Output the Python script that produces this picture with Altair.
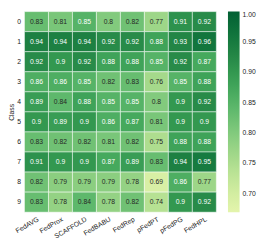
import altair as alt
import pandas as pd

methods = ["FedAVG", "FedProx", "SCAFFOLD", "FedBABU", "FedRep", "pFedPT", "pFedPG", "FedHPL"]
classes = ["0", "1", "2", "3", "4", "5", "6", "7", "8", "9"]
values = [
    [0.83, 0.81, 0.85, 0.80, 0.82, 0.77, 0.91, 0.92],
    [0.94, 0.94, 0.94, 0.92, 0.92, 0.88, 0.93, 0.96],
    [0.92, 0.90, 0.92, 0.88, 0.88, 0.85, 0.92, 0.87],
    [0.86, 0.86, 0.85, 0.82, 0.83, 0.76, 0.85, 0.88],
    [0.89, 0.84, 0.88, 0.85, 0.85, 0.80, 0.90, 0.92],
    [0.90, 0.89, 0.90, 0.86, 0.87, 0.81, 0.90, 0.90],
    [0.83, 0.82, 0.82, 0.81, 0.82, 0.75, 0.88, 0.88],
    [0.91, 0.90, 0.90, 0.87, 0.89, 0.83, 0.94, 0.95],
    [0.82, 0.79, 0.79, 0.79, 0.78, 0.69, 0.86, 0.77],
    [0.83, 0.78, 0.84, 0.78, 0.82, 0.74, 0.90, 0.92],
]
legend_ticks = [0.70, 0.75, 0.80, 0.85, 0.90, 0.95, 1.00]

rows = []
for ci, c in enumerate(classes):
    for mi, m in enumerate(methods):
        rows.append({"Class": c, "Method": m, "value": values[ci][mi]})
df = pd.DataFrame(rows)

FONT = "Liberation Sans"

x_enc = alt.X("Method:N", sort=methods, title=None,
              scale=alt.Scale(paddingInner=0, paddingOuter=0),
              axis=alt.Axis(labelAngle=-30, labelAlign="right", labelBaseline="top",
                            labelFontSize=7, labelFont=FONT, labelColor="#222",
                            ticks=False, domain=False, labelPadding=3))
y_enc = alt.Y("Class:N", sort=classes, title="Class",
              scale=alt.Scale(paddingInner=0, paddingOuter=0),
              axis=alt.Axis(labelAngle=0, labelFontSize=7, labelFont=FONT, labelColor="#222",
                            ticks=False, domain=False, labelPadding=4,
                            titleFontSize=7, titleFont=FONT, titleFontWeight="normal",
                            titleColor="#222", titlePadding=2))

base = alt.Chart(df)

rect = base.mark_rect(stroke="white", strokeWidth=0.5).encode(
    x=x_enc,
    y=y_enc,
    color=alt.Color("value:Q",
                    scale=alt.Scale(scheme="yellowgreen", domain=[0.67, 1.0]),
                    legend=alt.Legend(title=None, orient="right", offset=12, padding=0,
                                      gradientLength=207, gradientThickness=12,
                                      values=legend_ticks, format=".2f",
                                      labelFontSize=7, labelFont=FONT, labelColor="#222",
                                      labelOffset=3, gradientStrokeWidth=0)),
)

text = base.mark_text(fontSize=7, font=FONT).encode(
    x=alt.X("Method:N", sort=methods),
    y=alt.Y("Class:N", sort=classes),
    text=alt.Text("value:Q", format=".2~g"),
    color=alt.condition(alt.datum.value > 0.845, alt.value("white"), alt.value("#262626")),
)

chart = (rect + text).properties(
    width=198, height=207,
    autosize=alt.AutoSizeParams(type="none"),
    padding={"left": 17, "top": 0, "right": 43, "bottom": 25},
).configure_view(stroke=None)

chart.save("out.html", embed_options={"renderer": "svg", "actions": False})
